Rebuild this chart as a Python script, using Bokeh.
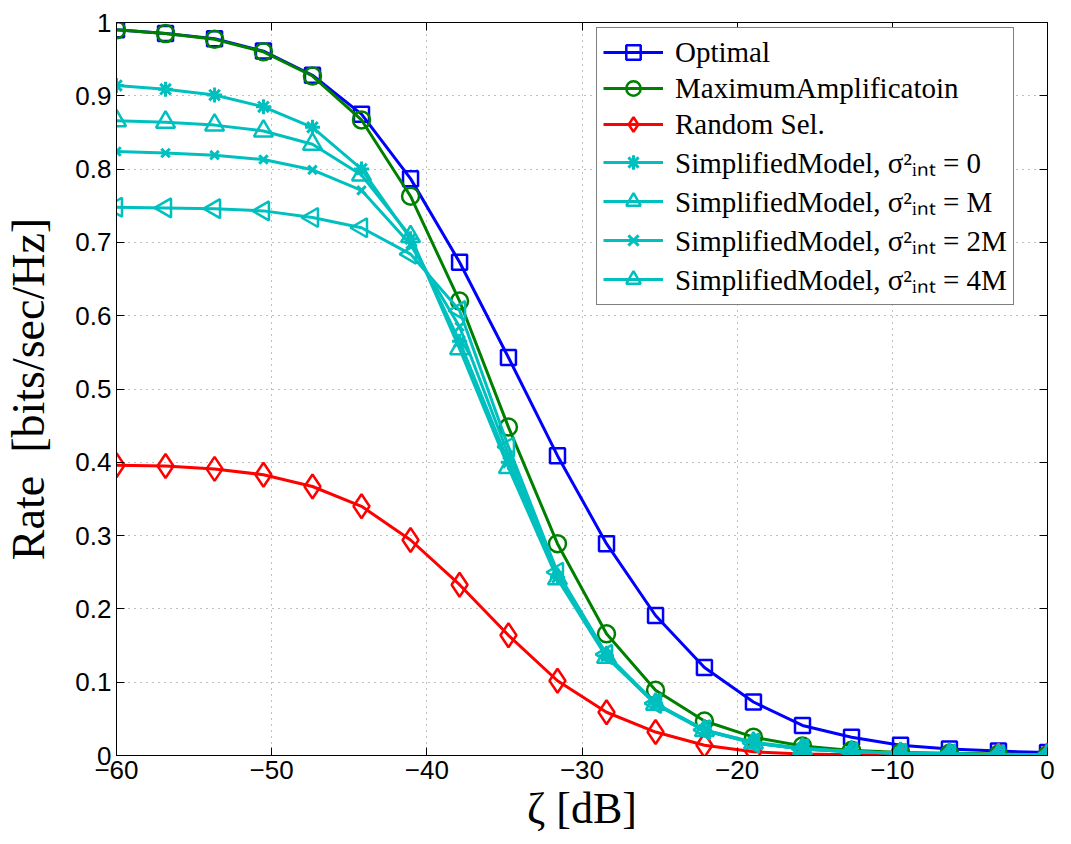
import math
from bokeh.plotting import figure
from bokeh.models import (Range1d, FixedTicker, CustomJSTickFormatter, LinearAxis,
                          Legend, LegendItem)
from bokeh.embed import file_html
from bokeh.resources import INLINE

# ---------------- data ----------------
zeta_db = [-60.0, -56.84, -53.68, -50.53, -47.37, -44.21, -41.05, -37.89, -34.74, -31.58,
           -28.42, -25.26, -22.11, -18.95, -15.79, -12.63, -9.47, -6.32, -3.16, 0.0]

optimal = [0.990, 0.985, 0.978, 0.961, 0.928, 0.875, 0.787, 0.673, 0.543, 0.409,
           0.289, 0.191, 0.120, 0.073, 0.041, 0.025, 0.014, 0.009, 0.006, 0.004]
max_amp = [0.990, 0.985, 0.977, 0.960, 0.927, 0.867, 0.763, 0.620, 0.448, 0.289,
           0.166, 0.089, 0.047, 0.025, 0.013, 0.007, 0.004, 0.003, 0.002, 0.001]
random_sel = [0.396, 0.395, 0.391, 0.383, 0.367, 0.340, 0.294, 0.233, 0.164, 0.102,
              0.059, 0.032, 0.014, 0.005, 0.002, 0.001, 0.0, 0.0, 0.0, 0.0]
simp_0 = [0.914, 0.909, 0.901, 0.885, 0.857, 0.800, 0.705, 0.565, 0.400, 0.243,
          0.136, 0.071, 0.035, 0.018, 0.010, 0.005, 0.003, 0.002, 0.001, 0.001]
simp_M = [0.866, 0.864, 0.860, 0.852, 0.834, 0.792, 0.708, 0.555, 0.393, 0.241,
          0.134, 0.070, 0.034, 0.017, 0.009, 0.005, 0.003, 0.002, 0.001, 0.001]
simp_2M = [0.824, 0.822, 0.819, 0.813, 0.799, 0.771, 0.697, 0.585, 0.410, 0.245,
           0.136, 0.070, 0.034, 0.017, 0.009, 0.005, 0.003, 0.002, 0.001, 0.001]
simp_4M = [0.748, 0.747, 0.746, 0.743, 0.734, 0.720, 0.684, 0.607, 0.421, 0.250,
           0.138, 0.071, 0.035, 0.017, 0.009, 0.005, 0.003, 0.002, 0.001, 0.001]

labels = ["Optimal", "MaximumAmplificatoin", "Random Sel.",
          "SimplifiedModel, \u03c3\u00b2\u1d62\u2099\u209c = 0",
          "SimplifiedModel, \u03c3\u00b2\u1d62\u2099\u209c = M",
          "SimplifiedModel, \u03c3\u00b2\u1d62\u2099\u209c = 2M",
          "SimplifiedModel, \u03c3\u00b2\u1d62\u2099\u209c = 4M"]

x_ticks = [-60, -50, -40, -30, -20, -10, 0]
y_ticks = [0, 0.1, 0.2, 0.3, 0.4, 0.5, 0.6, 0.7, 0.8, 0.9, 1.0]

# ---------------- figure ----------------
p = figure(width=1071, height=844, output_backend="svg", toolbar_location=None,
           x_range=Range1d(-60, 0), y_range=Range1d(0, 1),
           min_border_left=116, min_border_right=24, min_border_top=22, min_border_bottom=89)
p.background_fill_color = "white"
p.border_fill_color = "white"
p.outline_line_color = "black"
p.outline_line_width = 1

TICK_FONT = "Liberation Sans"
SERIF = "Liberation Serif"

xfmt = CustomJSTickFormatter(code="return tick < 0 ? '\\u2212' + Math.abs(tick) : String(tick);")
yfmt = CustomJSTickFormatter(code="if (Math.abs(tick) < 1e-9) return '0'; if (Math.abs(tick-1) < 1e-9) return '1'; return tick.toFixed(1);")
blank = CustomJSTickFormatter(code="return '';")

for ax in [p.xaxis[0], p.yaxis[0]]:
    ax.major_tick_in = 8
    ax.major_tick_out = 0
    ax.minor_tick_line_color = None
    ax.major_label_text_font = TICK_FONT
    ax.major_label_text_font_size = "26px"
    ax.major_label_text_color = "black"
    ax.axis_line_color = "black"
    ax.major_tick_line_color = "black"
    ax.axis_label_text_font = SERIF
    ax.axis_label_text_font_style = "normal"
    ax.axis_label_text_color = "black"

p.xaxis[0].axis_label_text_font_size = "44px"
p.yaxis[0].axis_label_text_font_size = "46px"
p.xaxis[0].ticker = FixedTicker(ticks=x_ticks)
p.yaxis[0].ticker = FixedTicker(ticks=y_ticks)
p.xaxis[0].formatter = xfmt
p.yaxis[0].formatter = yfmt
p.xaxis[0].axis_label = "\u03b6 [dB]"
p.yaxis[0].axis_label = "Rate\u00a0\u00a0[bits/sec/Hz]"
p.xaxis[0].major_label_standoff = 5
p.yaxis[0].major_label_standoff = 5
p.xaxis[0].axis_label_standoff = 2
p.yaxis[0].axis_label_standoff = 18

# box ticks on top and right
top_ax = LinearAxis(ticker=FixedTicker(ticks=x_ticks), formatter=blank,
                    major_label_text_color=None,
                    major_tick_in=8, major_tick_out=0, minor_tick_line_color=None,
                    major_tick_line_color="black",
                    axis_line_color=None, major_label_standoff=0)
right_ax = LinearAxis(ticker=FixedTicker(ticks=y_ticks), formatter=blank,
                      major_label_text_color=None,
                      major_tick_in=8, major_tick_out=0, minor_tick_line_color=None,
                      major_tick_line_color="black",
                      axis_line_color=None, major_label_standoff=0)
p.add_layout(top_ax, "above")
p.add_layout(right_ax, "right")

for g in [p.xgrid[0], p.ygrid[0]]:
    g.grid_line_color = "#808080"
    g.grid_line_dash = "1 5"
    g.grid_line_width = 1
p.xgrid[0].ticker = FixedTicker(ticks=x_ticks)
p.ygrid[0].ticker = FixedTicker(ticks=y_ticks)

BLUE, GREEN, RED, CYAN = "#0000ff", "#008000", "#ff0000", "#00bfbf"

series = [
    (optimal, BLUE, "square", 15, 2.5, 0.0),
    (max_amp, GREEN, "circle", 17, 2.5, 0.0),
    (random_sel, RED, "diamond", 24, 2.5, 0.0),
    (simp_0, CYAN, "asterisk", 15, 3.0, 0.0),
    (simp_M, CYAN, "triangle", 19, 2.5, 0.0),
    (simp_2M, CYAN, "x", 12, 3.0, 0.0),
    (simp_4M, CYAN, "triangle", 19, 2.5, math.pi / 2),
]

items = []
for (ys, col, mk, sz, mlw, ang), lab in zip(series, labels):
    r1 = p.line(zeta_db, ys, line_color=col, line_width=3)
    r2 = p.scatter(zeta_db, ys, marker=mk, size=sz, angle=ang, line_color=col,
                   line_width=mlw, fill_color=None)
    items.append(LegendItem(label=lab, renderers=[r1, r2]))

legend = Legend(items=items, location=(480, 450), orientation="vertical",
                label_text_font=SERIF, label_text_font_size="29px", label_text_color="black",
                glyph_width=60, glyph_height=36, label_height=30, spacing=0, padding=6,
                label_standoff=12, margin=0,
                border_line_color="black", border_line_width=1,
                background_fill_color="white", background_fill_alpha=1.0)
p.add_layout(legend, "center")

open("out.html", "w").write(file_html(p, INLINE))
